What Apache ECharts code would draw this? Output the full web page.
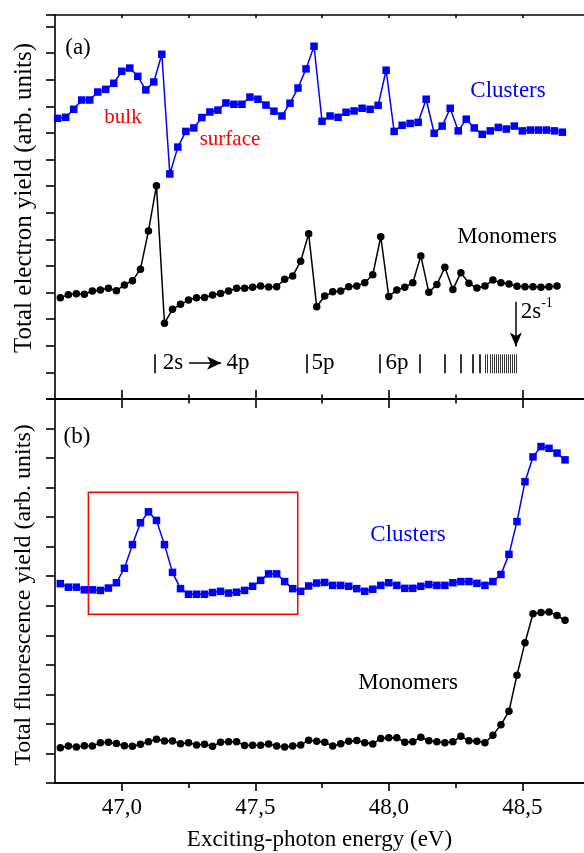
<!DOCTYPE html>
<html><head><meta charset="utf-8">
<script src="https://cdn.jsdelivr.net/npm/echarts@6/dist/echarts.min.js"></script>
<style>html,body{margin:0;padding:0;background:#fff}#c{width:584px;height:853px}</style>
</head><body><div id="c"></div>
<script>
// ---- data ----
const xTicks = [47.0, 47.5, 48.0, 48.5];
const xTickLabels = ['47,0', '47,5', '48,0', '48,5'];
const xMinorTicks = [47.25, 47.75, 48.25];

const topClusterX = [46.76,46.79,46.82,46.85,46.88,46.91,46.94,46.97,47.00,47.03,
  47.06,47.09,47.12,47.15,47.18,47.21,47.24,47.27,47.30,47.33,
  47.36,47.39,47.42,47.45,47.48,47.51,47.54,47.57,47.60,47.63,
  47.66,47.69,47.72,47.75,47.78,47.81,47.84,47.87,47.90,47.93,
  47.96,47.99,48.02,48.05,48.08,48.11,48.14,48.17,48.20,48.23,
  48.26,48.29,48.32,48.35,48.38,48.41,48.44,48.47,48.50,48.53,
  48.56,48.59,48.62,48.65];
const topClusterY = [10.55,10.59,10.89,11.24,11.24,11.54,11.64,11.87,12.32,12.44,
  12.13,11.62,11.92,12.96,8.46,9.47,10.06,10.19,10.58,10.79,
  10.86,11.13,11.08,11.08,11.35,11.27,11.05,10.82,10.64,11.12,
  11.69,12.41,13.26,10.44,10.64,10.59,10.78,10.83,10.93,10.89,
  11.04,12.36,10.06,10.29,10.36,10.40,11.27,9.99,10.26,10.93,
  10.08,10.52,10.19,9.95,10.08,10.21,10.15,10.26,10.08,10.11,
  10.11,10.11,10.08,10.03];

const topMonomerX = [46.77,46.80,46.83,46.86,46.89,46.92,46.95,46.98,47.01,47.04,
  47.07,47.10,47.13,47.16,47.19,47.22,47.25,47.28,47.31,47.34,
  47.37,47.40,47.43,47.46,47.49,47.52,47.55,47.58,47.61,47.64,
  47.67,47.70,47.73,47.76,47.79,47.82,47.85,47.88,47.91,47.94,
  47.97,48.00,48.03,48.06,48.09,48.12,48.15,48.18,48.21,48.24,
  48.27,48.30,48.33,48.36,48.39,48.42,48.45,48.48,48.51,48.54,
  48.57,48.60,48.63];
const topMonomerY = [3.81,3.92,3.96,3.94,4.06,4.10,4.16,4.07,4.29,4.45,
  4.88,6.32,8.02,2.85,3.37,3.56,3.72,3.81,3.82,3.91,
  3.97,4.06,4.16,4.16,4.20,4.25,4.21,4.22,4.50,4.62,
  5.18,6.21,3.47,3.87,4.03,4.06,4.22,4.25,4.37,4.67,
  6.10,3.85,4.10,4.20,4.37,5.38,4.01,4.30,4.95,4.12,
  4.75,4.35,4.17,4.25,4.47,4.37,4.32,4.24,4.22,4.22,
  4.20,4.22,4.25];

const bottomX = [46.77,46.80,46.83,46.86,46.89,46.92,46.95,46.98,47.01,47.04,
  47.07,47.10,47.13,47.16,47.19,47.22,47.25,47.28,47.31,47.34,
  47.37,47.40,47.43,47.46,47.49,47.52,47.55,47.58,47.61,47.64,
  47.67,47.70,47.73,47.76,47.79,47.82,47.85,47.88,47.91,47.94,
  47.97,48.00,48.03,48.06,48.09,48.12,48.15,48.18,48.21,48.24,
  48.27,48.30,48.33,48.36,48.39,48.42,48.45,48.48,48.51,48.54,
  48.57,48.60,48.63,48.66];
const bottomClusterY = [6.75,6.63,6.63,6.54,6.54,6.52,6.60,6.78,7.27,8.07,
  8.81,9.18,8.89,8.07,7.13,6.58,6.39,6.39,6.39,6.45,
  6.49,6.43,6.46,6.52,6.66,6.86,7.08,7.08,6.82,6.58,
  6.49,6.67,6.77,6.79,6.69,6.69,6.66,6.58,6.49,6.56,
  6.69,6.78,6.69,6.59,6.59,6.66,6.72,6.69,6.69,6.78,
  6.82,6.82,6.76,6.69,6.82,7.06,7.74,8.85,10.20,11.04,
  11.39,11.33,11.17,10.94];
const bottomMonomerY = [1.19,1.25,1.22,1.26,1.25,1.36,1.38,1.34,1.26,1.24,
  1.31,1.40,1.48,1.42,1.42,1.33,1.36,1.29,1.31,1.24,
  1.38,1.40,1.40,1.27,1.28,1.28,1.32,1.25,1.22,1.25,
  1.29,1.45,1.41,1.38,1.25,1.33,1.41,1.44,1.36,1.32,
  1.51,1.53,1.53,1.38,1.40,1.55,1.43,1.40,1.36,1.40,
  1.58,1.43,1.41,1.36,1.62,1.97,2.43,3.65,4.75,5.73,
  5.77,5.79,5.67,5.51];

// Rydberg level markers 2s -> np (eV) and the 2s^-1 limit
const levelBars = [47.125,47.693,47.966,48.117,48.208,48.271,48.315,48.342];
const denseLevelBars = [48.361,48.370,48.379,48.387,48.394,48.402,48.409,48.417,
  48.424,48.432,48.439,48.447,48.454,48.462,48.469,48.477];
const levelBarY = [0.97, 1.68];
const ionLimit = 48.476;
const ionArrowY = [3.66, 1.97];
const transArrowX = [47.252, 47.372];
const transArrowY = 1.35;
const boxX = [46.875, 47.659];
const boxY = [5.71, 9.84];

// ---- chart ----
const X_MIN = 46.75, X_MAX = 48.731;
const FONT = '"Liberation Serif","Times New Roman",serif';
const BLACK = '#000000', BLUE = '#0000ff', RED = '#ff0000';
const pairs = (xs, ys) => xs.map((x, i) => [x, ys[i]]);

const lineStyleAx = {color: BLACK, width: 1.6};
function xAx(grid, pos, values, len, inside, extra) {
  return Object.assign({
    type: 'value', gridIndex: grid, position: pos, min: X_MIN, max: X_MAX,
    axisLine: {show: true, onZero: false, lineStyle: lineStyleAx},
    splitLine: {show: false},
    axisTick: {show: true, inside: inside, length: len, customValues: values, lineStyle: lineStyleAx},
    axisLabel: {show: false}
  }, extra || {});
}
function yAx(grid, max) {
  return {
    type: 'value', gridIndex: grid, min: 0, max: max, interval: 1,
    axisLine: {show: true, onZero: false, lineStyle: lineStyleAx},
    axisTick: {show: true, inside: false, length: 9, lineStyle: lineStyleAx},
    axisLabel: {show: false}, splitLine: {show: false}
  };
}
function txt(text, x, y, size, color, extra) {
  return Object.assign({
    type: 'text', x: x, y: y, silent: true,
    style: {text: text, fill: color, font: size + 'px ' + FONT, align: 'center', verticalAlign: 'middle'}
  }, extra || {});
}
const bar = (x, w) => [{coord: [x, levelBarY[0]], lineStyle: {width: w}}, {coord: [x, levelBarY[1]]}];

const chart = echarts.init(document.getElementById('c'), null, {renderer: 'canvas'});
const option = {
  animation: false,
  backgroundColor: '#fff',
  grid: [
    {left: 55, top: 15, right: 0, height: 384},
    {left: 55, top: 399, right: 0, height: 384}
  ],
  xAxis: [
    xAx(0, 'bottom', xTicks, 9, false),
    xAx(0, 'bottom', xMinorTicks, 4.5, false),
    xAx(0, 'top', xTicks.concat(xMinorTicks), 3, true),
    xAx(1, 'bottom', xTicks, 8, false, {
      axisLabel: {show: true, customValues: xTicks, margin: 13,
        formatter: v => xTickLabels[xTicks.indexOf(v)] || '',
        color: BLACK, fontFamily: FONT, fontSize: 23},
      name: 'Exciting-photon energy (eV)', nameLocation: 'middle', nameGap: 45,
      nameTextStyle: {color: BLACK, fontFamily: FONT, fontSize: 23}
    }),
    xAx(1, 'bottom', xMinorTicks, 5, false),
    xAx(1, 'top', xTicks, 9, false),
    xAx(1, 'top', xMinorTicks, 4.5, false)
  ],
  yAxis: [yAx(0, 14.436), yAx(1, 13)],
  series: [
    {
      type: 'line', name: 'Clusters (TEY)', xAxisIndex: 0, yAxisIndex: 0,
      data: pairs(topClusterX, topClusterY),
      symbol: 'rect', symbolSize: 7.5,
      lineStyle: {color: BLUE, width: 1.5}, itemStyle: {color: BLUE}
    },
    {
      type: 'line', name: 'Monomers (TEY)', xAxisIndex: 0, yAxisIndex: 0,
      data: pairs(topMonomerX, topMonomerY),
      symbol: 'circle', symbolSize: 7.5,
      lineStyle: {color: BLACK, width: 1.5}, itemStyle: {color: BLACK},
      markLine: {
        silent: true, animation: false, symbol: ['none', 'none'],
        label: {show: false},
        lineStyle: {color: BLACK, width: 1.5, type: 'solid'},
        data: levelBars.map(x => bar(x, 1.6))
          .concat(denseLevelBars.map(x => bar(x, 0.8)))
          .concat([
            [{coord: [ionLimit, ionArrowY[0]], symbol: 'none'},
             {coord: [ionLimit, ionArrowY[1]], symbol: 'arrow', symbolSize: [9, 14]}],
            [{coord: [transArrowX[0], transArrowY], symbol: 'none'},
             {coord: [transArrowX[1], transArrowY], symbol: 'arrow', symbolSize: [10, 14]}]
          ])
      }
    },
    {
      type: 'line', name: 'Clusters (TFY)', xAxisIndex: 3, yAxisIndex: 1,
      data: pairs(bottomX, bottomClusterY),
      symbol: 'rect', symbolSize: 7.5,
      lineStyle: {color: BLUE, width: 1.5}, itemStyle: {color: BLUE},
      markArea: {
        silent: true,
        itemStyle: {color: 'rgba(0,0,0,0)', borderColor: RED, borderWidth: 1.5},
        data: [[{xAxis: boxX[0], yAxis: boxY[1]}, {xAxis: boxX[1], yAxis: boxY[0]}]]
      }
    },
    {
      type: 'line', name: 'Monomers (TFY)', xAxisIndex: 3, yAxisIndex: 1,
      data: pairs(bottomX, bottomMonomerY),
      symbol: 'circle', symbolSize: 7.5,
      lineStyle: {color: BLACK, width: 1.5}, itemStyle: {color: BLACK}
    }
  ],
  graphic: [
    txt('Total electron yield (arb. units)', 24, 198, 25, BLACK, {rotation: Math.PI / 2}),
    txt('Total fluorescence yield (arb. units)', 24, 595, 24, BLACK, {rotation: Math.PI / 2}),
    txt('(a)', 78, 48, 23, BLACK),
    txt('bulk', 123, 117, 21, RED),
    txt('surface', 230, 139, 21, RED),
    txt('Clusters', 508, 91, 23, BLUE),
    txt('Monomers', 507, 237, 23, BLACK),
    txt('2s', 531, 312, 23, BLACK),
    txt('-1', 547, 303, 14, BLACK),
    txt('2s', 173, 363, 23, BLACK),
    txt('4p', 238, 363, 23, BLACK),
    txt('5p', 323, 363, 23, BLACK),
    txt('6p', 397, 363, 23, BLACK),
    txt('(b)', 77, 437, 23, BLACK),
    txt('Clusters', 408, 535, 23, BLUE),
    txt('Monomers', 408, 683, 23, BLACK)
  ]
};
chart.setOption(option);
</script>
</body></html>
